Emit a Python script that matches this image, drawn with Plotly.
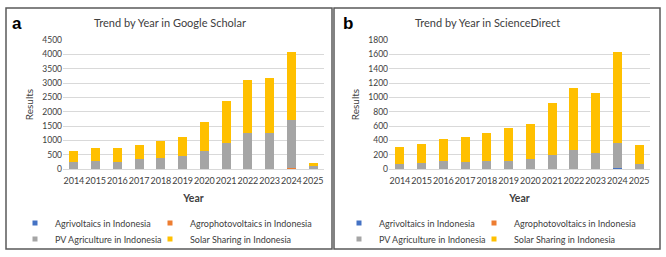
import plotly.graph_objects as go

years = [str(y) for y in range(2014, 2026)]
series_names = ["Agrivoltaics in Indonesia", "Agrophotovoltaics in Indonesia",
                "PV Agriculture in Indonesia", "Solar Sharing in Indonesia"]
colors = ["#4472C4", "#ED7D31", "#A5A5A5", "#FFC000"]

# Panel a: Google Scholar
gs_agrivoltaics = [0, 0, 0, 0, 0, 0, 0, 0, 0, 0, 30, 0]
gs_agrophotovoltaics = [0, 0, 0, 0, 0, 0, 0, 0, 0, 0, 5, 0]
gs_pv_agriculture = [256, 290, 256, 337, 395, 465, 628, 919, 1244, 1244, 1675, 90]
gs_solar_sharing = [384, 431, 488, 489, 570, 663, 1012, 1453, 1872, 1930, 2372, 110]

# Panel b: ScienceDirect
sd_agrivoltaics = [0, 0, 0, 0, 0, 0, 0, 0, 0, 0, 10, 0]
sd_agrophotovoltaics = [0, 0, 0, 0, 0, 0, 0, 0, 6, 0, 0, 0]
sd_pv_agriculture = [65, 84, 107, 102, 112, 116, 140, 200, 254, 223, 353, 74]
sd_solar_sharing = [237, 265, 307, 345, 395, 451, 488, 716, 870, 833, 1265, 261]

W, H = 666, 257
def px(x):
    return x / W
def py(y):
    return (H - y) / H

FONT = "Lato"
TXT = "#404040"

fig = go.Figure()

# legend slot positions (text-left x in px, row y in px) per panel
legend_slots = {
    "a": [(51, 223), (186, 223), (51, 239), (186, 239)],
    "b": [(375, 223), (510, 223), (375, 239), (510, 239)],
}

panels = [
    ("a", [gs_agrivoltaics, gs_agrophotovoltaics, gs_pv_agriculture, gs_solar_sharing], "x", "y"),
    ("b", [sd_agrivoltaics, sd_agrophotovoltaics, sd_pv_agriculture, sd_solar_sharing], "x2", "y2"),
]
leg_layout = {}
leg_idx = 1
for key, data, xa, ya in panels:
    for i, (name, vals) in enumerate(zip(series_names, data)):
        fig.add_trace(go.Bar(x=years, y=vals, name=name, marker_color=colors[i],
                             marker_line_width=0, xaxis=xa, yaxis=ya, showlegend=False))
        lname = "legend" if leg_idx == 1 else f"legend{leg_idx}"
        fig.add_trace(go.Scatter(x=[None], y=[None], mode="markers", name=name,
                                 marker=dict(symbol="square", size=5, color=colors[i]),
                                 xaxis=xa, yaxis=ya, legend=lname, showlegend=True))
        tx, ty = legend_slots[key][i]
        leg_layout[lname] = dict(x=px(tx - 36), y=py(ty), xanchor="left", yanchor="middle",
                                 orientation="h", bgcolor="rgba(0,0,0,0)",
                                 font=dict(family=FONT, size=9, color=TXT),
                                 itemclick=False, itemdoubleclick=False)
        leg_idx += 1

ydom = [py(169), py(40)]
fig.update_layout(
    width=W, height=H, margin=dict(l=0, r=0, t=0, b=0, autoexpand=False),
    paper_bgcolor="white", plot_bgcolor="white",
    barmode="stack", bargap=0.58,
    font=dict(family=FONT, color=TXT),
    xaxis=dict(domain=[px(63), px(324)], type="category", showgrid=False, automargin=False,
               showline=True, linecolor="#d9d9d9", ticks="", tickangle=0, ticklabelstandoff=3,
               tickfont=dict(family=FONT, size=9, color=TXT),
               title=dict(text="<b>Year</b>", font=dict(family=FONT, size=10.5, color=TXT), standoff=9)),
    yaxis=dict(domain=ydom, range=[0, 4500], dtick=500, showgrid=True, gridcolor="#d9d9d9",
               automargin=False, zeroline=False, ticks="", tickfont=dict(family=FONT, size=8.5, color=TXT),
               title=dict(text="Results", font=dict(family=FONT, size=10, color=TXT), standoff=6)),
    xaxis2=dict(domain=[px(389), px(650)], type="category", showgrid=False, anchor="y2", automargin=False,
                showline=True, linecolor="#d9d9d9", ticks="", tickangle=0, ticklabelstandoff=3,
                tickfont=dict(family=FONT, size=9, color=TXT),
                title=dict(text="<b>Year</b>", font=dict(family=FONT, size=10.5, color=TXT), standoff=9)),
    yaxis2=dict(domain=ydom, range=[0, 1800], dtick=200, showgrid=True, gridcolor="#d9d9d9", anchor="x2",
                automargin=False, zeroline=False, ticks="", tickfont=dict(family=FONT, size=8.5, color=TXT),
                title=dict(text="Results", font=dict(family=FONT, size=10, color=TXT), standoff=6)),
    **leg_layout,
)

# panel borders
for x0, x1 in [(6, 332), (334, 660)]:
    fig.add_shape(type="rect", xref="paper", yref="paper", x0=px(x0), x1=px(x1), y0=py(249), y1=py(8),
                  line=dict(color="#595959", width=1.5), fillcolor="rgba(0,0,0,0)")

# titles and panel letters
fig.add_annotation(text="Trend by Year in Google Scholar", x=px(170), y=py(22), xref="paper", yref="paper",
                   showarrow=False, font=dict(family=FONT, size=11, color=TXT), xanchor="center", yanchor="middle")
fig.add_annotation(text="Trend by Year in ScienceDirect", x=px(487), y=py(22), xref="paper", yref="paper",
                   showarrow=False, font=dict(family=FONT, size=11, color=TXT), xanchor="center", yanchor="middle")
fig.add_annotation(text="<b>a</b>", x=px(17), y=py(23), xref="paper", yref="paper",
                   showarrow=False, font=dict(family="Liberation Sans", size=17, color="black"),
                   xanchor="center", yanchor="middle")
fig.add_annotation(text="<b>b</b>", x=px(347.5), y=py(23), xref="paper", yref="paper",
                   showarrow=False, font=dict(family="Liberation Sans", size=17, color="black"),
                   xanchor="center", yanchor="middle")

fig.write_html("out.html", config={"displayModeBar": False},
               post_script="document.body.style.margin='0';")
